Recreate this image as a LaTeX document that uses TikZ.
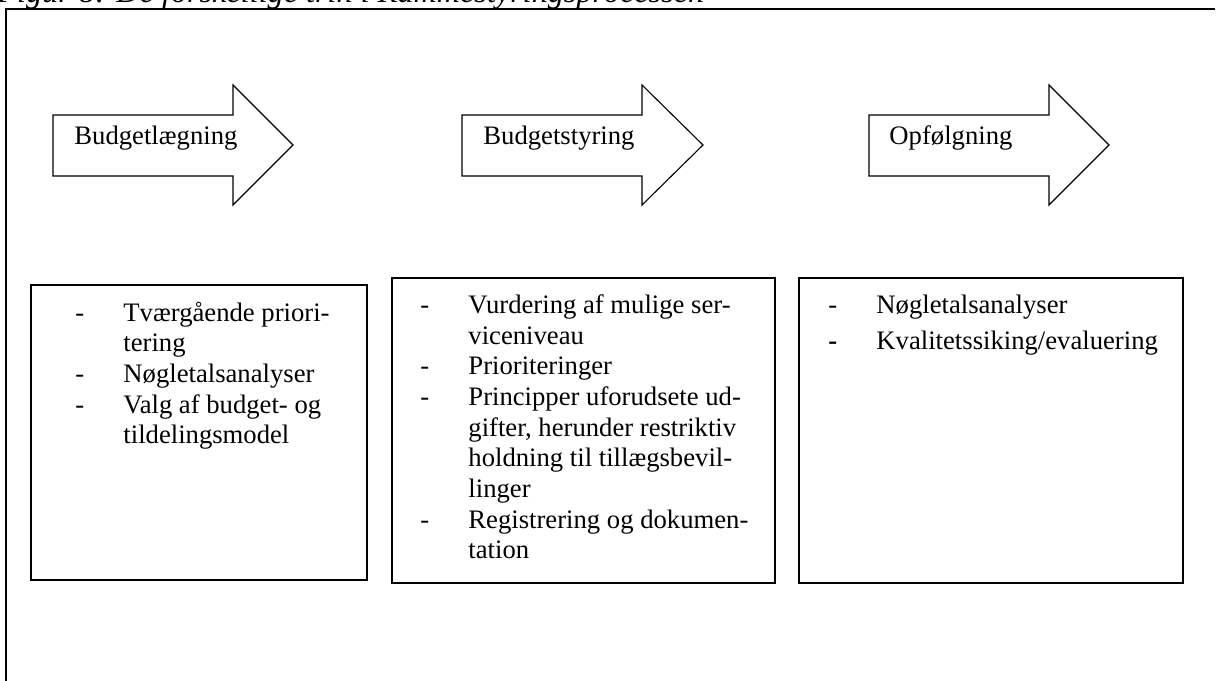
\documentclass[tikz,border=0pt]{standalone}
\usepackage{fontspec}
\setmainfont{Liberation Serif}

\tikzset{
  ramme/.style={line width=0.9pt},
  pil/.style={draw, line width=0.5pt, line join=miter},
  boks/.style={draw, rectangle, line width=0.6pt, inner sep=0pt, outer sep=0pt},
  punkter/.style={anchor=north west, inner sep=0pt, align=left, font=\fontsize{12}{13.8}\selectfont},
  pilnavn/.style={anchor=base west, inner sep=0pt, font=\fontsize{12}{13.8}\selectfont}
}
\newcommand{\punkt}[1]{\strut\makebox[21.6pt][l]{-}#1}
\newcommand{\fort}[1]{\strut\hspace*{21.6pt}#1}

\begin{document}
\begin{tikzpicture}[x=0.45pt,y=-0.45pt]
\useasboundingbox (0,0) rectangle (1216,681);
\clip (0,0) rectangle (1216,681);
% figure caption, cut off at the top
\node[anchor=base west, inner sep=0pt, font=\fontsize{14.5}{16}\selectfont\itshape] (figtekst) at (-3,3) {Figur 8: De forskellige trin i Rammestyringsprocessen};
\draw[ramme] (5.5,690) -- (5.5,9) -- (1215,9);
% arrows
\draw[pil] (53,115) -- (233,115) -- (233,85) -- (293,145) -- (233,205) -- (233,176) -- (53,176) -- cycle;
\node[pilnavn] (budgetlaegning) at (74,145) {Budgetlægning};
\draw[pil] (462,115) -- (642,115) -- (642,85) -- (703,145) -- (642,205) -- (642,176) -- (462,176) -- cycle;
\node[pilnavn] (budgetstyring) at (483,145) {Budgetstyring};
\draw[pil] (869,115) -- (1049,115) -- (1049,85) -- (1109,145) -- (1049,205) -- (1049,176) -- (869,176) -- cycle;
\node[pilnavn] (opfoelgning) at (889,145) {Opfølgning};
% boxes
\node[boks, anchor=north west, minimum width=151.2pt, minimum height=132.75pt] (boks1) at (31,285) {};
\node[punkter] (tekst1) at (75,299.3) {\punkt{Tværgående priori-}\\ \fort{tering}\\ \punkt{Nøgletalsanalyser}\\ \punkt{Valg af budget- og}\\ \fort{tildelingsmodel}};
\node[boks, anchor=north west, minimum width=172.35pt, minimum height=137.25pt] (boks2) at (392,278) {};
\node[punkter] (tekst2) at (420,291.5) {\punkt{Vurdering af mulige ser-}\\ \fort{viceniveau}\\ \punkt{Prioriteringer}\\ \punkt{Principper uforudsete ud-}\\ \fort{gifter, herunder restriktiv}\\ \fort{holdning til tillægsbevil-}\\ \fort{linger}\\ \punkt{Registrering og dokumen-}\\ \fort{tation}};
\node[boks, anchor=north west, minimum width=172.8pt, minimum height=137.25pt] (boks3) at (799,278) {};
\node[punkter] (tekst3) at (828,291.5) {\punkt{Nøgletalsanalyser}\\[2.4pt] \strut\makebox[21.6pt][l]{\textbf{-}}Kvalitetssiking/evaluering};
\end{tikzpicture}
\end{document}
